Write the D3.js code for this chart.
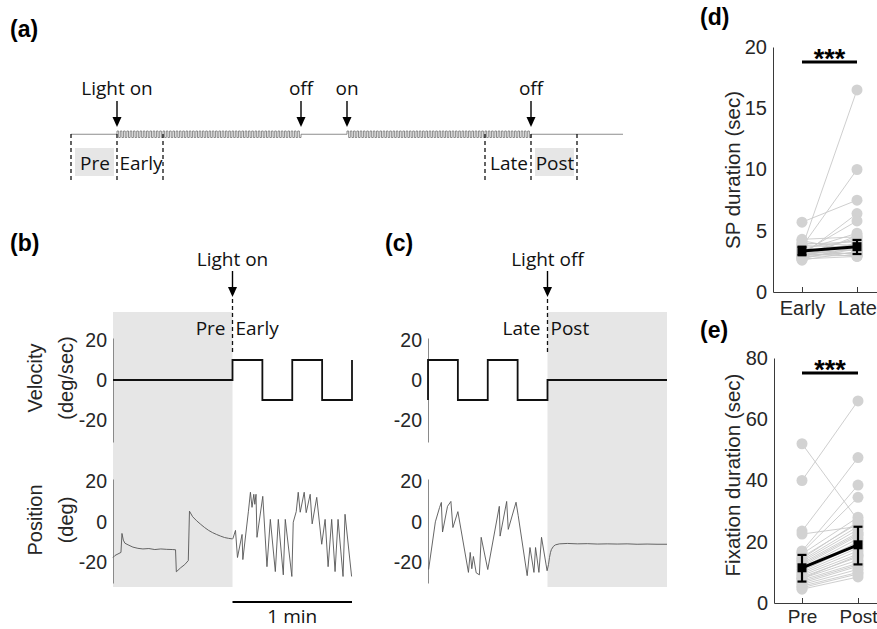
<!DOCTYPE html>
<html><head><meta charset="utf-8">
<script src="https://cdn.jsdelivr.net/npm/d3@7"></script>
<style>body{margin:0;background:#fff}svg{display:block}</style>
</head><body>
<svg id="fig" width="877" height="629"></svg>
<script>
// ================= DATA =================
// (a) protocol timeline (minutes)
const eventLabels = ["Light on", "off", "on", "off"];
const eventTimes = [0, 4, 5, 9];
const lightOnBlocks = [[0, 4], [5, 9]];
const cyclesPerMinute = 14;
const timelineRange = [-1, 11];
const windowNames = ["Pre", "Early", "Late", "Post"];
const windowStarts = [-1, 0, 8, 9];
const windowEnds = [0, 1, 9, 10];
const shadedWindows = ["Pre", "Post"];

// (b) light on: velocity steps (sec, deg/sec)
const velB_t = [-60, 0, 15, 30, 45, 60];
const velB_v = [0, 10, -10, 10, -10, 10];
// (b) eye position (sec, deg)
const posB_t = [-60, -59, -56, -55.5, -54.8, -54, -52, -50, -47.5, -45, -42, -39, -36, -33, -30, -28.6, -28.2, -26, -24, -22.2, -21.6, -20, -18, -16, -14, -12, -10, -8, -6, -4, -2, 0,
  0.25, 1.5, 2.5, 4.8, 5.2, 8, 9, 9.8, 10.7, 11.2, 11.8, 12.3, 15.2, 17.3, 19, 21.5, 23, 25.5, 26.5, 29.8, 30.5, 32, 33, 34, 36, 37, 39, 40, 42.3, 44.8, 46.5, 48, 49.8, 51.5, 53, 55.5, 56.5, 59.8];
const posB_v = [-17.5, -16.5, -15, -5.7, -9, -10.5, -11.5, -12.4, -13, -13.3, -13.1, -13.6, -13.3, -13.5, -13.6, -13.7, -24.5, -22.5, -21, -19, 5.2, 2.5, 0.5, -1.2, -2.8, -4.2, -5.3, -6.2, -7, -7.7, -8.1, -8.4,
  -8.1, -4.2, -17.5, -6.2, -18.5, 5.2, 14.5, 7.1, 13.5, 8.6, 13.5, -7.6, 12.5, -22, 1.2, -24.4, 1.2, -26, 1.2, -26.8, -0.2, 5, 14.5, 4.7, 14.5, 4.5, 13.5, -1, 12, -11, 1.2, -22, 1.2, -24.4, 1.2, -26.8, 3.7, -26.8];

// (c) light off: velocity steps
const velC_t = [-60, -60, -45, -30, -15, 0, 60];
const velC_v = [-10, 10, -10, 10, -10, 0, 0];
// (c) eye position
const posC_t = [-59.7, -56.3, -54.2, -53.3, -52.7, -50.2, -48.5, -47.5, -45, -39.7, -38.8, -38, -37.2, -35.8, -34.2, -33.3, -30, -24.2, -23.8, -20.5, -19.7, -15.8, -14.7, -10.2, -8.8, -6.8, -6, -4.3, -3, -0.2,
  0.5, 1, 1.5, 2, 3, 4, 6, 10, 15, 20, 25, 30, 35, 40, 45, 50, 55, 60];
const posC_v = [-23.4, 0, 7, 9.5, -5, 7.6, 10, -2.8, 5, -24.8, -15, -23, -17, -25, -26, -7.6, -23.4, 7.6, -7, 10, -3.7, 9.6, 3, -26.4, -12.6, -24.8, -12.6, -24.8, -7.6, -24,
  -21, -17.5, -15, -13.5, -12, -11.3, -10.8, -10.6, -10.8, -10.7, -10.9, -10.8, -10.9, -10.8, -11, -10.9, -11, -11];

const velTicks = [-20, 0, 20];
const posTicks = [-20, 0, 20];

// (d) SP duration (sec)
const spCats = ["Early", "Late"];
const spEarly = [3.6, 3.7, 5.7, 3.0, 3.2, 3.4, 2.8, 3.1, 3.6, 2.9, 3.3, 4.0, 2.7, 3.8, 3.1, 3.5, 2.6, 4.2, 3.0, 3.3, 2.9, 3.6, 3.2, 2.8, 3.9, 3.4, 3.0, 4.3, 3.1, 2.7];
const spLate = [16.5, 10.0, 7.5, 6.4, 5.8, 4.8, 4.6, 4.4, 4.2, 4.0, 3.9, 3.8, 3.7, 3.6, 3.5, 3.4, 3.3, 3.3, 3.2, 3.1, 3.0, 3.0, 2.9, 3.5, 4.1, 3.6, 3.2, 4.5, 3.8, 2.9];
const spCenter = [3.35, 3.7];
const spLow = [3.0, 3.1];
const spHigh = [3.7, 4.25];
const spTicks = [0, 5, 10, 15, 20];

// (e) Fixation duration (sec)
const fixCats = ["Pre", "Post"];
const fixPre = [52, 40, 23.5, 22.5, 17, 16.5, 16, 15, 14, 13.5, 13, 12, 11.5, 11, 10.5, 10, 9.5, 9, 8.5, 8, 7.5, 7, 6.5, 6, 5.5, 5, 4.5, 12.5, 14.5, 8];
const fixPost = [27, 66, 47.5, 25, 38.5, 34.5, 28, 26, 25, 24, 23, 22, 21, 20, 19, 18, 17, 16, 15, 14, 13, 12.5, 12, 11, 10, 9.5, 8.5, 22.5, 26.5, 15.5];
const fixCenter = [11.5, 19.0];
const fixLow = [7.0, 12.6];
const fixHigh = [15.7, 24.9];
const fixTicks = [0, 20, 40, 60, 80];

// ================= DRAW =================
const svg = d3.select("#fig");
const AX = "'Liberation Sans', Arial, sans-serif";
const TX = "'Open Sans', 'Noto Sans', sans-serif";
const TXT = "#262626";
const GRAYBG = "#e6e6e6";

function label(x, y, s, opts = {}) {
  return svg.append("text").attr("x", x).attr("y", y).text(s)
    .attr("font-family", opts.family || TX).attr("font-size", opts.size || 19)
    .attr("font-weight", opts.weight || "normal").attr("fill", opts.fill || "#111")
    .attr("text-anchor", opts.anchor || "middle");
}
function arrow(x, y1, y2) {
  svg.append("line").attr("x1", x).attr("x2", x).attr("y1", y1).attr("y2", y2 - 9)
    .attr("stroke", "#000").attr("stroke-width", 1.4);
  svg.append("path").attr("d", `M${x - 4.5},${y2 - 10}L${x + 4.5},${y2 - 10}L${x},${y2}Z`).attr("fill", "#000");
}

// panel labels
[["(a)", 10, 37], ["(b)", 10, 251], ["(c)", 385, 251], ["(d)", 700, 25], ["(e)", 700, 338]].forEach(([s, x, y]) =>
  label(x, y, s, { family: AX, size: 23, weight: "bold", anchor: "start", fill: "#000" }));

// ---------- (a)
const xa = d3.scaleLinear().domain(timelineRange).range([71, 623]);
const ya = d3.scaleLinear().domain([-1, 1]).range([137.5, 131]);
const tl = [[timelineRange[0], 0]];
lightOnBlocks.forEach(([s, e]) => {
  const n = Math.round((e - s) * cyclesPerMinute), per = (e - s) / n;
  for (let k = 0; k < n; k++) { tl.push([s + k * per, 1]); tl.push([s + (k + 0.5) * per, -1]); }
  tl.push([e, 0]);
});
tl.push([timelineRange[1], 0]);
svg.append("path").datum(tl)
  .attr("d", d3.line().x(d => xa(d[0])).y(d => ya(d[1])).curve(d3.curveStepAfter))
  .attr("fill", "none").attr("stroke", "#707070").attr("stroke-width", 0.8);

windowNames.forEach((w, i) => {
  if (shadedWindows.includes(w))
    svg.append("rect").attr("x", xa(windowStarts[i]) + 4).attr("y", 148)
      .attr("width", xa(windowEnds[i]) - xa(windowStarts[i]) - 7).attr("height", 28).attr("fill", GRAYBG);
});
const bounds = Array.from(new Set(windowStarts.concat(windowEnds)));
bounds.forEach(t => svg.append("line").attr("x1", xa(t)).attr("x2", xa(t)).attr("y1", 134).attr("y2", 182)
  .attr("stroke", "#111").attr("stroke-width", 1.3).attr("stroke-dasharray", "4,3"));
windowNames.forEach((w, i) => label(xa((windowStarts[i] + windowEnds[i]) / 2) + 1, 170, w));
eventLabels.forEach((s, i) => { label(xa(eventTimes[i]), 95, s); arrow(xa(eventTimes[i]), 101, 127); });

// ---------- (b) & (c)
function tracePanel(x0, shadeDomain, vt, vv, pt, pv, evText, leftLab, rightLab) {
  const x = d3.scaleLinear().domain([-60, 60]).range([x0, x0 + 239]);
  const yV = d3.scaleLinear().domain([-31, 21]).range([442, 338]);
  const yP = d3.scaleLinear().domain([-30, 21]).range([583, 479]);
  svg.append("rect").attr("x", x(shadeDomain[0])).attr("y", 312)
    .attr("width", x(shadeDomain[1]) - x(shadeDomain[0])).attr("height", 275).attr("fill", GRAYBG);
  [[yV, velTicks], [yP, posTicks]].forEach(([y, tk]) => {
    const g = svg.append("g").attr("transform", `translate(${x0},0)`)
      .call(d3.axisLeft(y).tickValues(tk).tickFormat(d => String(d)).tickSizeInner(0).tickSizeOuter(0).tickPadding(6));
    g.select(".domain").attr("stroke", "#8a8a8a").attr("stroke-width", 1);
    g.selectAll("text").attr("font-family", AX).attr("font-size", 19.5).attr("fill", TXT);
  });
  svg.append("path").datum(vt.map((t, i) => [t, vv[i]]))
    .attr("d", d3.line().x(d => x(d[0])).y(d => yV(d[1])).curve(d3.curveStepAfter))
    .attr("fill", "none").attr("stroke", "#111").attr("stroke-width", 1.8);
  svg.append("path").datum(pt.map((t, i) => [t, pv[i]]))
    .attr("d", d3.line().x(d => x(d[0])).y(d => yP(d[1])))
    .attr("fill", "none").attr("stroke", "#555").attr("stroke-width", 0.9);
  const xe = x(0);
  label(xe, 266, evText);
  arrow(xe, 271, 297);
  svg.append("line").attr("x1", xe).attr("x2", xe).attr("y1", 299).attr("y2", 352)
    .attr("stroke", "#111").attr("stroke-width", 1.3).attr("stroke-dasharray", "4,3");
  label(xe - 7, 335, leftLab, { anchor: "end" });
  label(xe + 3, 335, rightLab, { anchor: "start" });
  return x;
}
const xb = tracePanel(113, [-60, 0], velB_t, velB_v, posB_t, posB_v, "Light on", "Pre", "Early");
const xc = tracePanel(428, [0, 60], velC_t, velC_v, posC_t, posC_v, "Light off", "Late", "Post");

// y labels for (b)
function vlabel(x, y, s, size) {
  svg.append("text").attr("transform", `translate(${x},${y}) rotate(-90)`).text(s)
    .attr("font-family", AX).attr("font-size", size).attr("fill", TXT).attr("text-anchor", "middle");
}
vlabel(42, 378, "Velocity", 20); vlabel(73, 378, "(deg/sec)", 20);
vlabel(42, 520, "Position", 20); vlabel(73, 520, "(deg)", 20);

// scale bar
svg.append("line").attr("x1", xb(0)).attr("x2", xb(60)).attr("y1", 602).attr("y2", 602)
  .attr("stroke", "#000").attr("stroke-width", 2.2);
label((xb(0) + xb(60)) / 2, 623, "1 min");

// ---------- (d) & (e)
function pairedPanel(cats, a, b, ctr, lo, hi, ticks, ydom, yr, axX, pad, ylab, ylabY, sigY, labPad, labSize) {
  const x = d3.scalePoint().domain(cats).range([axX, 886]).padding(pad);
  const y = d3.scaleLinear().domain(ydom).range(yr);
  const gy = svg.append("g").attr("transform", `translate(${axX},0)`)
    .call(d3.axisLeft(y).tickValues(ticks).tickSizeInner(0).tickSizeOuter(0).tickPadding(6));
  const gx = svg.append("g").attr("transform", `translate(0,${yr[0]})`)
    .call(d3.axisBottom(x).tickSizeInner(-5).tickSizeOuter(0).tickPadding(labPad));
  [gy, gx].forEach(g => {
    g.select(".domain").attr("stroke", "#3a3a3a").attr("stroke-width", 1);
    g.selectAll(".tick line").attr("stroke", "#3a3a3a");
    g.selectAll("text").attr("font-family", AX).attr("font-size", 20).attr("fill", TXT);
  });
  gx.selectAll("text").attr("font-size", labSize);
  a.forEach((v, i) => svg.append("line").attr("x1", x(cats[0])).attr("x2", x(cats[1]))
    .attr("y1", y(v)).attr("y2", y(b[i])).attr("stroke", "#c8c8c8").attr("stroke-width", 0.9));
  [a, b].forEach((arr, k) => arr.forEach(v => svg.append("circle").attr("cx", x(cats[k])).attr("cy", y(v))
    .attr("r", 5.5).attr("fill", "#d2d2d2")));
  svg.append("line").attr("x1", x(cats[0])).attr("x2", x(cats[1])).attr("y1", y(ctr[0])).attr("y2", y(ctr[1]))
    .attr("stroke", "#000").attr("stroke-width", 3);
  cats.forEach((c, k) => {
    const cx = x(c);
    svg.append("line").attr("x1", cx).attr("x2", cx).attr("y1", y(lo[k])).attr("y2", y(hi[k])).attr("stroke", "#000").attr("stroke-width", 2.2);
    [lo[k], hi[k]].forEach(v => svg.append("line").attr("x1", cx - 4.5).attr("x2", cx + 4.5).attr("y1", y(v)).attr("y2", y(v)).attr("stroke", "#000").attr("stroke-width", 2.2));
    svg.append("rect").attr("x", cx - 4.5).attr("y", y(ctr[k]) - 4.5).attr("width", 9).attr("height", 9).attr("fill", "#000");
  });
  svg.append("line").attr("x1", x(cats[0])).attr("x2", x(cats[1])).attr("y1", sigY).attr("y2", sigY)
    .attr("stroke", "#000").attr("stroke-width", 3);
  label((x(cats[0]) + x(cats[1])) / 2, sigY + 6, "***", { family: AX, size: 27, weight: "bold", fill: "#000" });
  vlabel(740, ylabY, ylab, 20.5);
}
pairedPanel(spCats, spEarly, spLate, spCenter, spLow, spHigh, spTicks, [0, 20], [292, 47], 773, 0.527, "SP duration (sec)", 170, 62, 9, 20);
pairedPanel(fixCats, fixPre, fixPost, fixCenter, fixLow, fixHigh, fixTicks, [0, 80], [603, 358], 774, 0.5, "Fixation duration (sec)", 475, 373, 7, 19);
</script>
</body></html>
